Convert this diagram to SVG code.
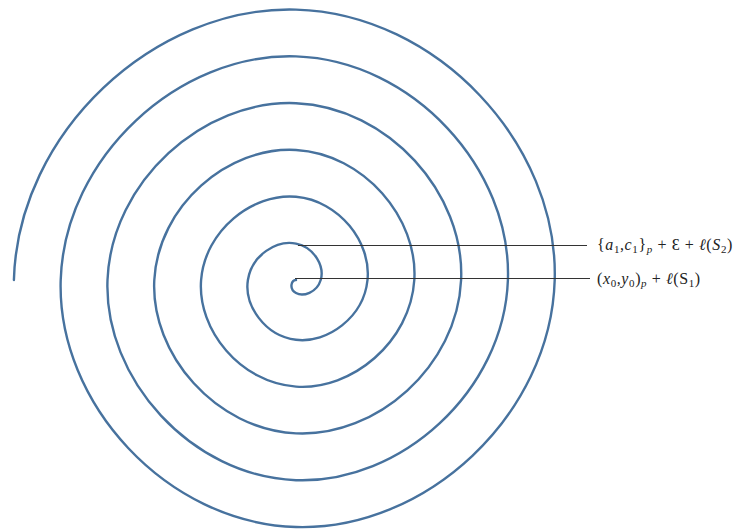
<svg xmlns="http://www.w3.org/2000/svg" width="741" height="530" viewBox="0 0 741 530">
<style>
.spiral{fill:none;stroke:#47729e;stroke-width:2.4;stroke-linecap:round;stroke-linejoin:round}
.leader{fill:none;stroke:#333;stroke-width:1.2}
.lbl{font-family:"Liberation Serif","DejaVu Serif",serif;font-size:16px;fill:#222;letter-spacing:0.6px}
.it{font-style:italic}
.sub{font-size:11px}
</style>
<rect width="741" height="530" fill="#fff"/>
<g id="spiral">
<path class="spiral" d="M296,280 C291.7,279.25 288.4,288.7 296,293 C302.81,296.9 316.8,292.93 320.7,280 C324.6,267.07 315.06,247.5 296,243.6 C276.94,239.7 251.8,254.81 247.9,280 C244.0,305.19 264.69,335.9 296,339.8 C327.31,343.7 363.6,317.44 367.5,280 C371.4,242.56 339.56,200.7 296,196.8 C252.44,192.9 205.0,230.31 201.1,280 C197.2,329.69 240.18,382.7 296,386.6 C351.82,390.5 410.4,341.94 414.3,280 C418.2,218.06 364.07,153.9 296,150 C227.93,146.1 158.2,205.81 154.3,280 C150.4,354.19 215.68,429.5 296,433.4 C376.32,437.3 457.2,366.45 461.1,280 C465.0,193.55 388.57,107.1 296,103.2 C203.43,99.3 111.4,181.3 107.5,280 C103.6,378.7 191.18,476.3 296,480.2 C400.82,484.1 504.0,390.95 507.9,280 C511.8,169.05 413.08,60.3 296,56.4 C178.92,52.5 64.6,156.8 60.7,280 C56.8,403.2 166.67,523.1 296,527 C425.33,530.9 550.8,415.46 554.7,280 C558.6,144.54 437.58,13.5 296,9.6 C154.42,5.7 17.8,132.29 13.9,280"/>
</g>
<g id="connectors">
<line class="leader" x1="298" y1="245.5" x2="587" y2="245.5"/>
<line class="leader" x1="295" y1="278.5" x2="590" y2="278.5"/>
</g>
<g id="label-s2">
<text class="lbl" x="597" y="250">{<tspan class="it">a</tspan><tspan class="sub" dy="3">1</tspan><tspan dy="-3">,</tspan><tspan class="it">c</tspan><tspan class="sub" dy="3">1</tspan><tspan dy="-3">}</tspan><tspan class="sub it" dy="3">p</tspan><tspan dy="-3"> + Ɛ + </tspan><tspan class="it">ℓ</tspan>(<tspan class="it">S</tspan><tspan class="sub" dy="3">2</tspan><tspan dy="-3">)</tspan></text>
</g>
<g id="label-s1">
<text class="lbl" x="597" y="284">(<tspan class="it">x</tspan><tspan class="sub" dy="3">0</tspan><tspan dy="-3">,</tspan><tspan class="it">y</tspan><tspan class="sub" dy="3">0</tspan><tspan dy="-3">)</tspan><tspan class="sub it" dy="3">p</tspan><tspan dy="-3"> + </tspan><tspan class="it">ℓ</tspan>(S<tspan class="sub" dy="3">1</tspan><tspan dy="-3">)</tspan></text>
</g>
</svg>
